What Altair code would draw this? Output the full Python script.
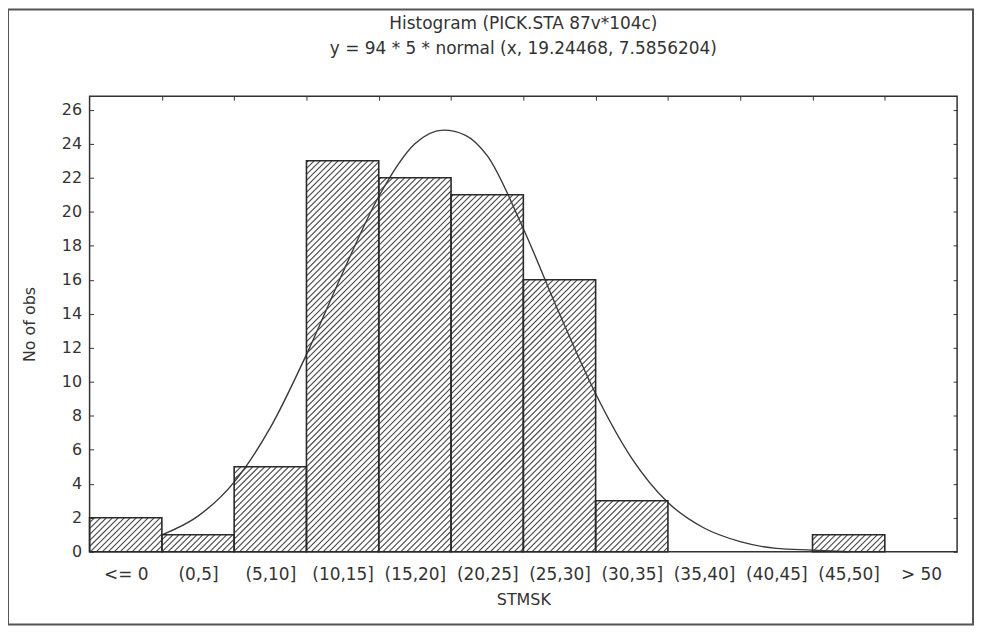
import json
import altair as alt
import pandas as pd

# ---- data ----
categories = ["<= 0", "(0,5]", "(5,10]", "(10,15]", "(15,20]", "(20,25]",
              "(25,30]", "(30,35]", "(35,40]", "(40,45]", "(45,50]", "> 50"]
bin_lo = [-5, 0, 5, 10, 15, 20, 25, 30, 35, 40, 45, 50]
bin_hi = [0, 5, 10, 15, 20, 25, 30, 35, 40, 45, 50, 55]
counts = [2, 1, 5, 23, 22, 21, 16, 3, 0, 0, 1, 0]

# fitted normal curve
curve_x = [0, 2.5, 5, 7.5, 10, 12.5, 15, 17.5, 19.5, 21, 22.5,
           25, 27.5, 30, 32.5, 35, 37.5, 40, 42.5, 45, 47.5]
curve_y = [1.0, 2.1, 4.1, 7.3, 11.6, 16.4, 20.9, 24.0, 24.8, 24.5, 23.3,
           19.0, 14.0, 9.3, 5.5, 2.9, 1.4, 0.6, 0.2, 0.1, 0.0]

y_ticks = list(range(0, 27, 2))
edge_ticks = list(range(0, 55, 5))

# ---- layout / style ----
W, H = 872, 458
XDOM = [-5, 55]
YDOM = [0, 26.8]
FONT = "DejaVu Sans"
TXT = "#333333"
px_x = W / (XDOM[1] - XDOM[0])
px_y = H / (YDOM[1] - YDOM[0])
slope = px_x / px_y          # 45 degree hatch in pixel space
step = 6.0 / px_x            # ~6px between hatch lines

bars = pd.DataFrame({"cat": categories, "lo": bin_lo, "hi": bin_hi, "n": counts})
bars["mid"] = (bars["lo"] + bars["hi"]) / 2
curve = pd.DataFrame({"x": curve_x, "y": curve_y})

xscale = alt.Scale(domain=XDOM, nice=False, zero=False)
yscale = alt.Scale(domain=YDOM, nice=False, zero=True)

label_expr = json.dumps(categories) + "[round((datum.value + 2.5) / 5)]"
xaxis = alt.Axis(title="STMSK", values=list(bars["mid"]), labelExpr=label_expr,
                 tickSize=0, domain=False, grid=False, labelOverlap=False,
                 labelFlush=False, labelPadding=15, titlePadding=9,
                 labelFont=FONT, titleFont=FONT, labelFontSize=17, titleFontSize=16,
                 titleFontWeight="normal", labelColor=TXT, titleColor=TXT)
yaxis = alt.Axis(title="No of obs", values=y_ticks, tickSize=4, tickColor="#333",
                 offset=-4, domain=False, grid=False, labelPadding=8, titlePadding=24,
                 labelFont=FONT, titleFont=FONT, labelFontSize=16, titleFontSize=16,
                 titleFontWeight="normal", labelColor=TXT, titleColor=TXT)
xaxis_top = alt.Axis(orient="top", values=edge_ticks, labels=False, tickSize=4,
                     tickColor="#333", offset=-4, domain=False, grid=False, title="")
yaxis_right = alt.Axis(orient="right", values=y_ticks, labels=False, tickSize=4,
                       tickColor="#333", offset=-4, domain=False, grid=False, title="")


def X(field, axis=None):
    return alt.X(field, type="quantitative", scale=xscale, axis=axis)


def Y(field, axis=None):
    return alt.Y(field, type="quantitative", scale=yscale, axis=axis)


frame = alt.Chart(pd.DataFrame({"k": [0]})).mark_rect(
    fill="white", fillOpacity=0, stroke="#555555", strokeWidth=2
).encode(x=alt.value(-82), x2=alt.value(W + 16), y=alt.value(-87), y2=alt.value(H + 73))

line = alt.Chart(curve).mark_line(color="#3a3a3a", strokeWidth=1.4, interpolate="monotone").encode(
    x=X("x", xaxis), y=Y("y", yaxis)
)

hatch = alt.Chart(bars).transform_filter("datum.n > 0").transform_calculate(
    c=f"sequence(floor((datum.lo - datum.n / {slope}) / {step}) * {step}, datum.hi, {step})"
).transform_flatten(["c"]).transform_calculate(
    xa="max(datum.lo, datum.c)",
    xb=f"min(datum.hi, datum.c + datum.n / {slope})"
).transform_filter("datum.xb > datum.xa + 0.01").transform_calculate(
    ya=f"(datum.xa - datum.c) * {slope}",
    yb=f"(datum.xb - datum.c) * {slope}"
).mark_rule(color="#444444", strokeWidth=1.1).encode(
    x=X("xa"), x2="xb:Q", y=Y("ya"), y2="yb:Q"
)

outline = alt.Chart(bars).transform_filter("datum.n > 0").mark_rect(
    fill="white", fillOpacity=0, stroke="#2a2a2a", strokeWidth=1.6
).encode(x=X("lo"), x2="hi:Q", y=Y("n"), y2=alt.datum(0))

# carrier for the inward ticks on the top and right frame edges
edges = alt.Chart(curve).mark_point(opacity=0).encode(
    x=X("x", xaxis_top), y=Y("y", yaxis_right)
)

chart = alt.layer(frame, line, hatch, outline, edges).resolve_axis(
    x="independent", y="independent"
).properties(
    width=W, height=H,
    title=alt.TitleParams(
        text="Histogram (PICK.STA 87v*104c)",
        subtitle="y = 94 * 5 * normal (x, 19.24468, 7.5856204)",
        font=FONT, subtitleFont=FONT, fontSize=17, subtitleFontSize=17,
        fontWeight="normal", color=TXT, subtitleColor=TXT,
        anchor="middle", frame="group", offset=-50, subtitlePadding=9),
    autosize=alt.AutoSizeParams(type="none"),
    padding={"left": 82, "top": 87, "right": 20, "bottom": 79},
).configure_view(stroke="#333333", strokeWidth=1.5)

chart.save("out.html", embed_options={"renderer": "svg", "actions": False})
